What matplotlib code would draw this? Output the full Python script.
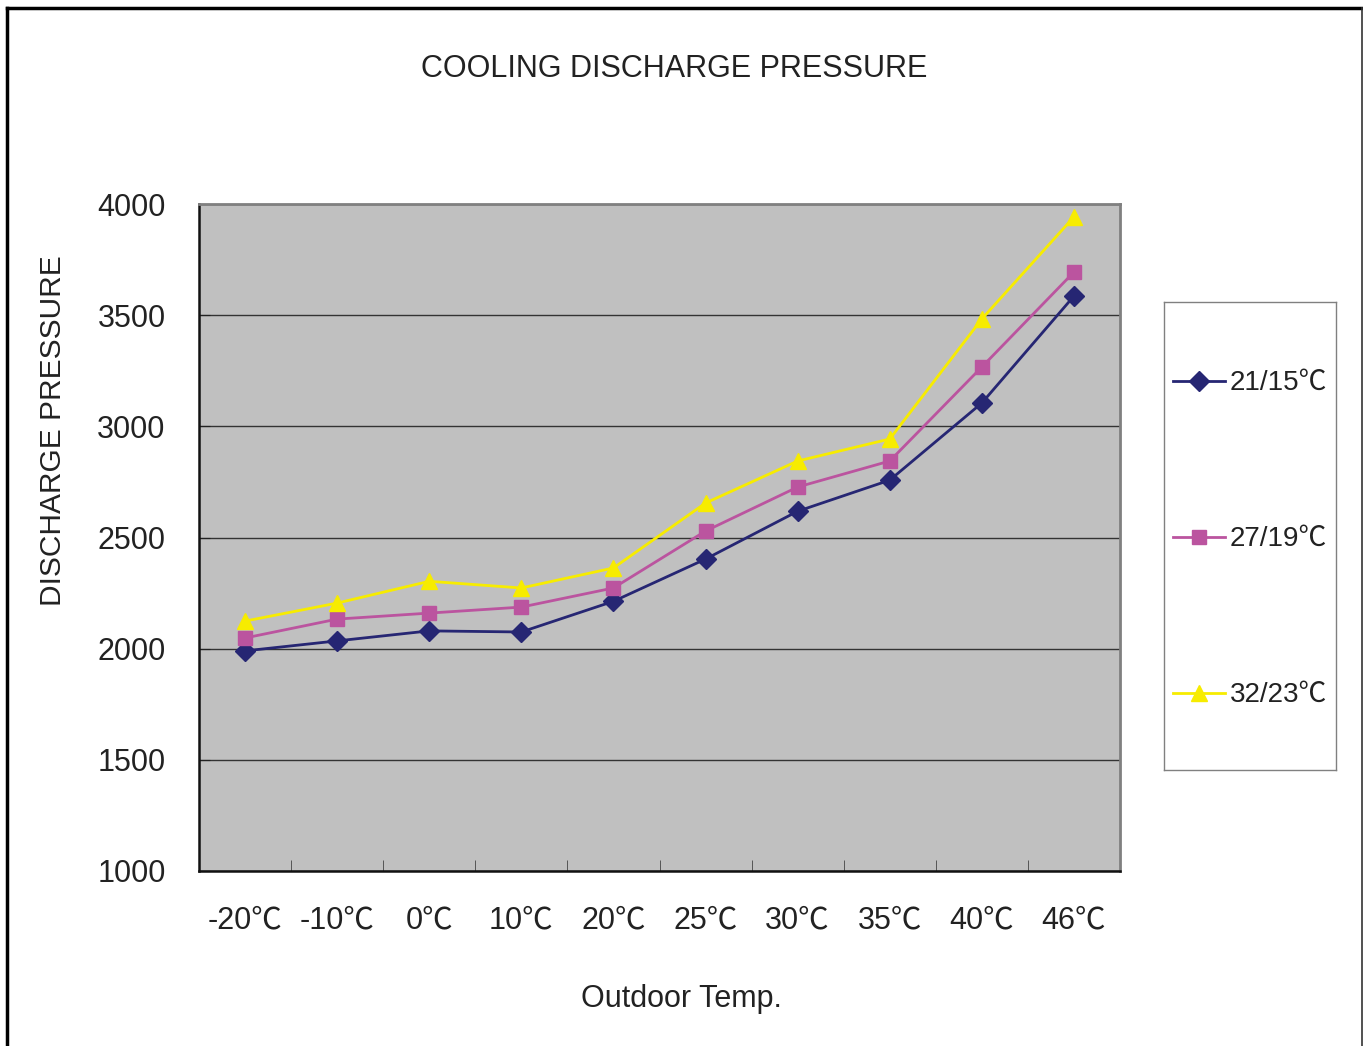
import numpy as np
import matplotlib.pyplot as plt
from matplotlib.lines import Line2D

plt.rcParams['font.family'] = ['Liberation Sans', 'Noto Sans CJK SC', 'DejaVu Sans']

categories = ['-20℃', '-10℃', '0℃', '10℃', '20℃', '25℃', '30℃', '35℃', '40℃', '46℃']
series_names = ['21/15℃', '27/19℃', '32/23℃']
s21_15 = [1990, 2035, 2080, 2075, 2213, 2403, 2618, 2758, 3105, 3586]
s27_19 = [2048, 2133, 2160, 2187, 2273, 2529, 2727, 2844, 3267, 3694]
s32_23 = [2124, 2205, 2303, 2273, 2363, 2655, 2844, 2943, 3483, 3942]

colors = ['#262673', '#BB549F', '#F7EC00']
markers = ['D', 's', '^']
msizes = [10, 10, 11]

W, H = 1363, 1046
fig = plt.figure(figsize=(W / 100, H / 100), dpi=100)
ax = fig.add_axes([199 / W, 1 - 871 / H, 921 / W, 667 / H])
ax.set_facecolor('#C0C0C0')

x = np.arange(len(categories))
all_series = [s21_15, s27_19, s32_23]
for vals, c, m, ms, name in zip(all_series, colors, markers, msizes, series_names):
    ax.plot(x, vals, color=c, marker=m, markersize=ms, linewidth=2, label=name, zorder=3)

ax.set_xlim(-0.5, len(categories) - 0.5)
ax.set_ylim(1000, 4000)
ax.set_yticks(np.arange(1000, 4001, 500))
ax.yaxis.grid(True, color='#333333', linewidth=1)
ax.set_axisbelow(True)
ax.tick_params(axis='y', direction='in', length=8, labelsize=22, pad=24, colors='#222222')
ax.set_xticks(x)
ax.set_xticklabels(categories)
ax.set_xticks(np.arange(0.5, len(categories) - 0.5, 1), minor=True)
ax.tick_params(axis='x', which='major', length=0, labelsize=22, pad=25, colors='#222222')
ax.tick_params(axis='x', which='minor', direction='in', length=8, color='#444444')

for side in ['left', 'bottom']:
    ax.spines[side].set_color('#111111')
    ax.spines[side].set_linewidth(1.8)
for side in ['top', 'right']:
    ax.spines[side].set_color('#808080')
    ax.spines[side].set_linewidth(2)

fig.text(674 / W, 1 - 69 / H, 'COOLING DISCHARGE PRESSURE', ha='center', va='center',
         fontsize=22, color='#222222')
fig.text(53 / W, 1 - 431 / H, 'DISCHARGE PRESSURE', ha='center', va='center',
         rotation=90, fontsize=21.5, color='#222222')
fig.text(681 / W, 1 - 999 / H, 'Outdoor Temp.', ha='center', va='center',
         fontsize=22, color='#222222')

# legend box drawn by hand to get the wide spacing of the original
lax = fig.add_axes([1164 / W, 1 - 770 / H, 172 / W, 468 / H])
lax.set_xlim(1164, 1336)
lax.set_ylim(770, 302)
lax.set_xticks([])
lax.set_yticks([])
for sp in lax.spines.values():
    sp.set_color('#808080')
    sp.set_linewidth(1)
entry_y = [381, 537, 693]
for ey, c, m, ms, name in zip(entry_y, colors, markers, msizes, series_names):
    lax.plot([1173, 1225], [ey, ey], color=c, linewidth=2)
    lax.plot([1199], [ey], color=c, marker=m, markersize=ms, linestyle='none')
    lax.text(1230, ey + 2, name, ha='left', va='center', fontsize=20, color='#222222')

# outer border of the chart area
fig.add_artist(Line2D([7 / W, 7 / W], [0, 1 - 8 / H], transform=fig.transFigure,
                      color='black', linewidth=2.5))
fig.add_artist(Line2D([7 / W, 1362 / W], [1 - 8 / H, 1 - 8 / H], transform=fig.transFigure,
                      color='black', linewidth=2.5))
fig.add_artist(Line2D([1361.5 / W, 1361.5 / W], [0, 1 - 8 / H], transform=fig.transFigure,
                      color='#333333', linewidth=1.2))

fig.savefig('out.png', dpi=100)
